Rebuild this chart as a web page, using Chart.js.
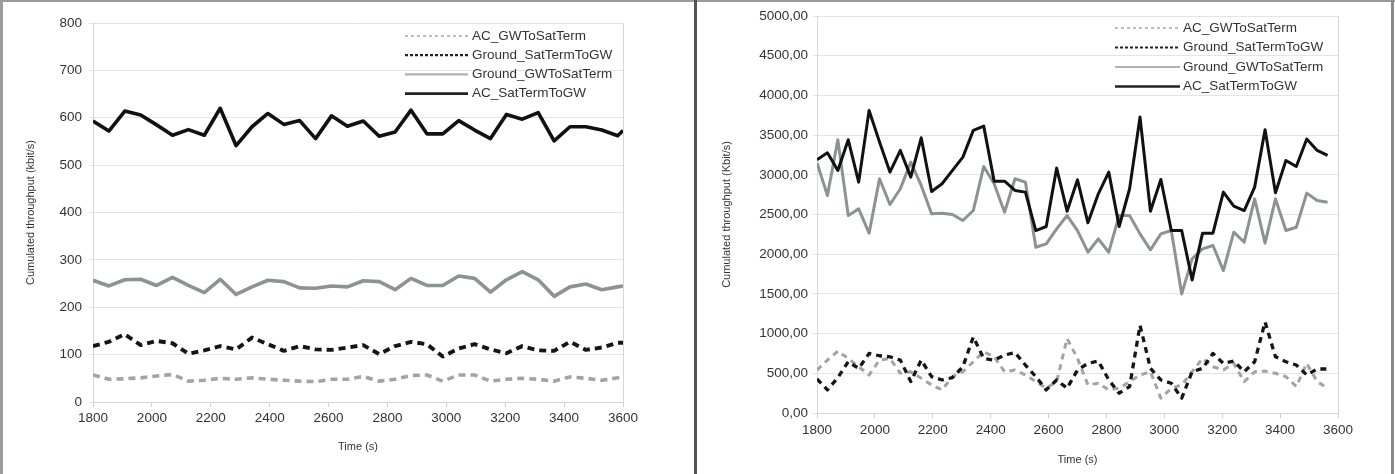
<!DOCTYPE html>
<html><head><meta charset="utf-8">
<script src="https://cdn.jsdelivr.net/npm/chart.js@4.4.1/dist/chart.umd.min.js"></script>
<style>
html,body{margin:0;padding:0;background:#fff;width:1395px;height:474px;overflow:hidden;}
.wrap{position:absolute;top:0;height:474px;}
#w1{left:0;width:696px;}
#w2{left:697px;width:698px;}
.frame{position:absolute;pointer-events:none;}
</style></head>
<body>
<div class="wrap" id="w1"><canvas id="c1" width="696" height="474"></canvas></div>
<div class="wrap" id="w2"><canvas id="c2" width="698" height="474"></canvas></div>
<div class="frame" style="left:0;top:0;width:3px;height:474px;background:#9c9c9c"></div>
<div class="frame" style="left:0;top:0;width:1395px;height:2px;background:#9a9a9a"></div>
<div class="frame" style="left:694px;top:0;width:3px;height:474px;background:#555"></div>
<div class="frame" style="left:1391px;top:0;width:3px;height:474px;background:#8a8a8a"></div>
<script>
// ---------- Data: left chart ----------
const LEFT_TIME = [1800,1854,1908,1962,2016,2070,2124,2178,2232,2286,2340,2394,2448,2502,2556,2610,2664,2718,2772,2826,2880,2934,2988,3042,3096,3150,3204,3258,3312,3366,3420,3474,3528,3582,3600];
const LEFT_AC_GW_SAT  = [57,48,49,51,55,58,44,46,50,48,51,48,46,44,43,48,48,54,44,48,56,57,44,57,57,44,48,50,48,44,53,50,46,51,54];
const LEFT_GND_SAT_GW = [118,127,143,120,129,124,102,109,118,111,136,122,108,118,111,110,115,120,101,118,127,122,96,113,122,111,103,118,109,108,127,110,115,125,125];
const LEFT_GND_GW_SAT = [257,245,258,259,246,263,246,231,259,227,243,257,254,241,240,245,243,256,254,237,261,246,246,266,261,232,258,275,258,223,243,249,237,243,245];
const LEFT_AC_SAT_GW  = [593,572,614,606,585,563,575,563,620,541,581,609,586,594,556,604,582,593,561,570,616,566,566,594,574,556,607,597,611,551,581,581,574,562,573];

// ---------- Data: right chart ----------
const RIGHT_TIME = [1800,1836,1872,1908,1944,1980,2016,2052,2088,2124,2160,2196,2232,2268,2304,2340,2376,2412,2448,2484,2520,2556,2592,2628,2664,2700,2736,2772,2808,2844,2880,2916,2952,2988,3024,3060,3096,3132,3168,3204,3240,3276,3312,3348,3384,3420,3456,3492,3528,3564];
const RIGHT_AC_GW_SAT  = [541,666,779,687,583,479,666,687,500,520,437,354,291,458,520,646,771,708,520,541,479,395,312,395,937,687,354,375,291,312,395,479,520,187,312,354,520,687,583,541,625,395,520,529,500,458,333,625,395,312];
const RIGHT_GND_SAT_GW = [429,291,445,646,562,750,721,708,666,395,666,458,416,445,583,958,687,666,729,762,604,458,291,416,312,541,625,654,416,249,333,1104,562,416,375,187,520,562,750,625,654,520,646,1146,708,646,604,479,554,554];
const RIGHT_GND_GW_SAT = [3150,2739,3441,2487,2571,2265,2950,2626,2824,3160,2866,2508,2517,2500,2424,2550,3105,2887,2529,2950,2908,2088,2130,2319,2487,2298,2025,2193,2025,2487,2487,2256,2055,2256,2298,1500,1941,2067,2109,1794,2277,2151,2697,2139,2697,2298,2340,2769,2676,2655];
const RIGHT_AC_SAT_GW  = [3189,3277,3055,3441,2908,3811,3412,3034,3307,2971,3466,2790,2887,3055,3223,3559,3613,2920,2920,2803,2782,2298,2349,3084,2542,2937,2395,2761,3034,2349,2824,3727,2542,2941,2298,2298,1676,2265,2265,2782,2605,2550,2845,3567,2773,3181,3105,3450,3307,3244];

const SERIES_NAMES = ['AC_GWToSatTerm','Ground_SatTermToGW','Ground_GWToSatTerm','AC_SatTermToGW'];
const LEFT_X_TICKS = [1800,2000,2200,2400,2600,2800,3000,3200,3400,3600];

const FONT = "'Liberation Sans', Arial, Helvetica, sans-serif";
const TXT = '#333';

const insideLegend = {
  id: 'insideLegend',
  afterDatasetsDraw(chart, args, o) {
    const {ctx, chartArea} = chart;
    ctx.save();
    chart.data.datasets.forEach((ds, i) => {
      const y = chartArea.top + o.y0 + o.dy * i;
      ctx.beginPath();
      ctx.setLineDash(ds.legendDash || []);
      ctx.lineWidth = ds.legendWidth;
      ctx.strokeStyle = ds.legendColor || ds.borderColor;
      ctx.moveTo(chartArea.right - o.lx0, y);
      ctx.lineTo(chartArea.right - o.lx1, y);
      ctx.stroke();
      ctx.setLineDash([]);
      ctx.fillStyle = TXT;
      ctx.font = '13.5px ' + FONT;
      ctx.textBaseline = 'middle';
      ctx.textAlign = 'left';
      ctx.fillText(ds.label, chartArea.right - o.tx, y);
    });
    ctx.restore();
  }
};

function pts(t, v) { return t.map((x, i) => ({x: x, y: v[i]})); }

function build(id, g) {
  const datasets = [
    {label: SERIES_NAMES[0], data: pts(g.time, g.s[0]), borderColor: '#a3a3a3', borderWidth: g.w, borderDash: g.dash, order: 3,
     legendWidth: 1.3, legendDash: [3,3], legendColor: '#999'},
    {label: SERIES_NAMES[1], data: pts(g.time, g.s[1]), borderColor: '#151515', borderWidth: g.w + 0.3, borderDash: g.dash, order: 1,
     legendWidth: 2.2, legendDash: [3,2], legendColor: '#222'},
    {label: SERIES_NAMES[2], data: pts(g.time, g.s[2]), borderColor: '#8c9393', borderWidth: g.w, order: 2,
     legendWidth: 2.2, legendColor: '#b0b0b0'},
    {label: SERIES_NAMES[3], data: pts(g.time, g.s[3]), borderColor: '#111', borderWidth: g.w, order: 0,
     legendWidth: 2.6, legendColor: '#222'}
  ];
  datasets.forEach(d => { d.showLine = true; d.pointRadius = 0; d.tension = 0; d.fill = false; d.borderJoinStyle = 'round'; });
  return new Chart(document.getElementById(id), {
    type: 'scatter',
    data: {datasets},
    plugins: [insideLegend],
    options: {
      responsive: false, animation: false, devicePixelRatio: 1,
      layout: {padding: {left: 0, right: g.padRight, top: g.padTop, bottom: 0}},
      plugins: {legend: {display: false}, tooltip: {enabled: false},
        insideLegend: g.legend},
      scales: {
        x: {
          type: 'linear', position: 'bottom', min: 1800, max: 3600,
          afterBuildTicks: s => { s.ticks = LEFT_X_TICKS.map(v => ({value: v})); },
          ticks: {autoSkip: false, maxRotation: 0, padding: g.xPad, color: TXT, font: {family: FONT, size: 13.5},
                  callback: v => String(v)},
          grid: {drawOnChartArea: false, drawTicks: true, tickLength: 5, color: '#cfcfcf'},
          border: {display: true, color: '#d6d6d6'},
          title: {display: true, text: 'Time (s)', color: TXT, font: {family: FONT, size: 11}, padding: {top: 0, bottom: g.xTitlePad}},
          afterFit: s => { s.height = g.bottomSpace; }
        },
        y: {
          type: 'linear', position: 'left', min: 0, max: g.yMax,
          ticks: {stepSize: g.yStep, padding: g.yPad, color: TXT, font: {family: FONT, size: 13.5}, callback: g.yFmt},
          grid: {color: '#e4e4e4', drawTicks: true, tickLength: 4},
          border: {display: true, color: '#d6d6d6'},
          title: {display: true, text: g.yTitle, color: TXT, font: {family: FONT, size: 11}, padding: {top: g.yTitlePad, bottom: 0}},
          afterFit: s => { s.width = g.plotLeft; }
        },
        yr: {
          type: 'linear', position: 'right', min: 0, max: 1,
          ticks: {display: false},
          grid: {drawOnChartArea: false, drawTicks: false},
          border: {display: true, color: '#d6d6d6'},
          afterFit: s => { s.width = 0; }
        }
      }
    }
  });
}

build('c1', {
  time: LEFT_TIME,
  s: [LEFT_AC_GW_SAT, LEFT_GND_SAT_GW, LEFT_GND_GW_SAT, LEFT_AC_SAT_GW],
  w: 3.6, dash: [7, 5],
  yMax: 800, yStep: 100, yFmt: v => String(v),
  yTitle: 'Cumulated throughput (kbit/s)',
  plotLeft: 93, padRight: 73, padTop: 23, bottomSpace: 72,
  xPad: 3, yPad: 7, yTitlePad: 24, xTitlePad: 20,
  legend: {tx: 151, lx0: 218, lx1: 155, y0: 13, dy: 19.2}
});

build('c2', {
  time: RIGHT_TIME,
  s: [RIGHT_AC_GW_SAT, RIGHT_GND_SAT_GW, RIGHT_GND_GW_SAT, RIGHT_AC_SAT_GW],
  w: 3.0, dash: [6, 5],
  yMax: 5000, yStep: 500, yFmt: v => v.toFixed(2).replace('.', ','),
  yTitle: 'Cumulated throughput (Kbit/s)',
  plotLeft: 120, padRight: 57, padTop: 16, bottomSpace: 61,
  xPad: 4, yPad: 5, yTitlePad: 23, xTitlePad: 7,
  legend: {tx: 155, lx0: 223, lx1: 158, y0: 12, dy: 19.5}
});
</script>
</body></html>
